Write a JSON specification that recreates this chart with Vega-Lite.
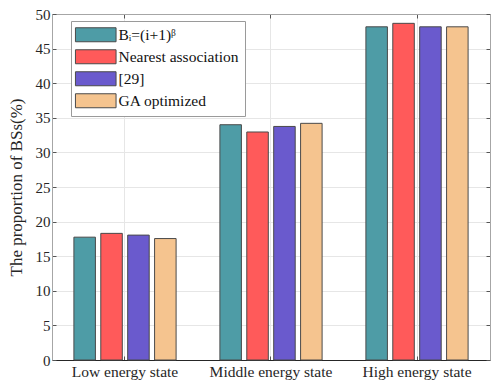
{
  "$schema": "https://vega.github.io/schema/vega-lite/v6.json",
  "width": 438,
  "height": 346,
  "autosize": {"type": "none"},
  "padding": {"left": 52, "top": 14, "right": 8, "bottom": 31},
  "background": "white",
  "config": {
    "font": "Times New Roman",
    "view": {"stroke": "#a6a6a6", "strokeWidth": 1},
    "axis": {"labelFont": "Times New Roman", "titleFont": "Times New Roman"},
    "legend": {"labelFont": "Times New Roman"}
  },
  "data": {
    "values": [
      {"state": "Low energy state", "method": "Bᵢ=(i+1)ᵝ", "value": 17.75},
      {"state": "Low energy state", "method": "Nearest association", "value": 18.3},
      {"state": "Low energy state", "method": "[29]", "value": 18.05},
      {"state": "Low energy state", "method": "GA optimized", "value": 17.55},
      {"state": "Middle energy state", "method": "Bᵢ=(i+1)ᵝ", "value": 34.0},
      {"state": "Middle energy state", "method": "Nearest association", "value": 32.95},
      {"state": "Middle energy state", "method": "[29]", "value": 33.75},
      {"state": "Middle energy state", "method": "GA optimized", "value": 34.2},
      {"state": "High energy state", "method": "Bᵢ=(i+1)ᵝ", "value": 48.15},
      {"state": "High energy state", "method": "Nearest association", "value": 48.65},
      {"state": "High energy state", "method": "[29]", "value": 48.15},
      {"state": "High energy state", "method": "GA optimized", "value": 48.15}
    ]
  },
  "resolve": {"axis": {"x": "independent", "y": "independent"}},
  "layer": [
    {
      "mark": {"type": "bar", "stroke": "#4a4a4a", "strokeWidth": 1},
      "encoding": {
        "x": {
          "field": "state", "type": "nominal",
          "sort": ["Low energy state", "Middle energy state", "High energy state"],
          "scale": {"paddingInner": 0.3, "paddingOuter": 0.15},
          "axis": {
            "title": null, "labelAngle": 0, "labelFontSize": 15.5, "labelColor": "#262626",
            "labelFont": "Times New Roman",
            "labelPadding": 8, "tickSize": -4, "tickColor": "#555", "domainColor": "#262626",
            "grid": true, "gridColor": "#e6e6e6", "bandPosition": 0.5
          }
        },
        "xOffset": {
          "field": "method", "type": "nominal",
          "sort": ["Bᵢ=(i+1)ᵝ", "Nearest association", "[29]", "GA optimized"],
          "scale": {"paddingInner": 0.2, "paddingOuter": 0}
        },
        "y": {
          "field": "value", "type": "quantitative",
          "scale": {"domain": [0, 50], "nice": false},
          "axis": {
            "title": "The proportion of BSs(%)", "titleFontSize": 17, "titleFontWeight": "normal",
            "titleColor": "#262626", "titlePadding": 10, "titleFont": "Times New Roman",
            "values": [0, 5, 10, 15, 20, 25, 30, 35, 40, 45, 50],
            "labelFontSize": 15, "labelColor": "#262626", "labelPadding": 6,
            "labelFont": "Times New Roman",
            "tickSize": -4, "tickColor": "#555", "domainColor": "#a6a6a6",
            "grid": true, "gridColor": "#e6e6e6"
          }
        },
        "fill": {
          "field": "method", "type": "nominal",
          "sort": ["Bᵢ=(i+1)ᵝ", "Nearest association", "[29]", "GA optimized"],
          "scale": {
            "domain": ["Bᵢ=(i+1)ᵝ", "Nearest association", "[29]", "GA optimized"],
            "range": ["#4e9ca6", "#ff5a5a", "#6a5acd", "#f5c48f"]
          },
          "legend": {
            "title": null, "orient": "none", "legendX": 19, "legendY": 7,
            "symbolType": "M-2.9,-1H2.9V1H-2.9Z", "symbolSize": 196, "symbolOffset": 11,
            "symbolStrokeColor": "#4a4a4a", "symbolStrokeWidth": 1,
            "labelFontSize": 15.5, "labelColor": "#111", "labelFont": "Times New Roman",
            "labelOffset": 15, "rowPadding": 3,
            "strokeColor": "#9a9a9a", "fillColor": "white", "padding": 6
          }
        }
      }
    },
    {
      "mark": {"type": "tick", "opacity": 0},
      "encoding": {
        "x": {
          "field": "state", "type": "nominal",
          "sort": ["Low energy state", "Middle energy state", "High energy state"],
          "axis": {
            "orient": "top", "title": null, "labels": false, "tickSize": -4, "tickColor": "#555",
            "domainColor": "#a6a6a6", "grid": false, "bandPosition": 0.5
          }
        },
        "y": {
          "field": "value", "type": "quantitative",
          "axis": {
            "orient": "right", "title": null, "labels": false,
            "values": [0, 5, 10, 15, 20, 25, 30, 35, 40, 45, 50],
            "tickSize": -4, "tickColor": "#555", "domainColor": "#a6a6a6", "grid": false
          }
        }
      }
    }
  ]
}
